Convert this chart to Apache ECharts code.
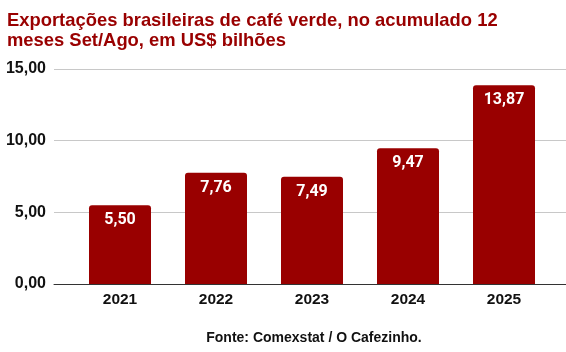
<!DOCTYPE html>
<html>
<head>
<meta charset="utf-8">
<script src="https://cdn.jsdelivr.net/npm/echarts@6/dist/echarts.min.js"></script>
<style>
  html, body { margin: 0; padding: 0; background: #fff; }
  #main { width: 566px; height: 352px; }
</style>
</head>
<body>
<div id="main"></div>
<script>
// dados
const anos = ['2021', '2022', '2023', '2024', '2025'];
const exportacoes = [5.50, 7.76, 7.49, 9.47, 13.87];
const yTicks = [0, 5, 15]; // min, intervalo, max

const fmt = v => v.toFixed(2).replace('.', ',');
const vermelho = '#990000';

const myChart = echarts.init(document.getElementById('main'));
const option = {
    animation: false,
    backgroundColor: '#fff',
    title: [
        {
            text: 'Exportações brasileiras de café verde, no acumulado 12\nmeses Set/Ago, em US$ bilhões',
            left: 2,
            top: 6,
            textStyle: {
                color: vermelho,
                fontFamily: 'Liberation Sans',
                fontWeight: 'bold',
                fontSize: 18.4,
                lineHeight: 20
            }
        },
        {
            text: 'Fonte: Comexstat / O Cafezinho.',
            left: 309,
            textAlign: 'center',
            top: 326,
            textStyle: {
                color: '#111',
                fontFamily: 'Liberation Sans',
                fontWeight: 'bold',
                fontSize: 14
            }
        }
    ],
    grid: [
        // grade de fundo: linhas e rótulos do eixo y
        { left: 54, right: 0, top: 69, bottom: 68 },
        // grade das barras
        { left: 72, right: 14, top: 69, bottom: 68 }
    ],
    xAxis: [
        {
            gridIndex: 0,
            type: 'category',
            data: anos,
            axisLine: { lineStyle: { color: '#333', width: 1 } },
            axisTick: { show: false },
            axisLabel: { show: false }
        },
        {
            gridIndex: 1,
            type: 'category',
            data: anos,
            axisLine: { show: false },
            axisTick: { show: false },
            axisLabel: {
                margin: 8,
                color: '#111',
                fontFamily: 'Liberation Sans',
                fontWeight: 'bold',
                fontSize: 15.5
            }
        }
    ],
    yAxis: [
        {
            gridIndex: 0,
            type: 'value',
            min: yTicks[0],
            max: yTicks[2],
            interval: yTicks[1],
            axisLine: { show: false },
            axisTick: { show: false },
            splitLine: { lineStyle: { color: '#c8c8c8', width: 1 } },
            axisLabel: {
                margin: 8,
                formatter: fmt,
                color: '#111',
                fontFamily: 'Liberation Sans',
                fontWeight: 'bold',
                fontSize: 16
            }
        },
        {
            gridIndex: 1,
            type: 'value',
            min: yTicks[0],
            max: yTicks[2],
            interval: yTicks[1],
            show: false
        }
    ],
    series: [
        {
            type: 'bar',
            xAxisIndex: 1,
            yAxisIndex: 1,
            data: exportacoes,
            barWidth: 62,
            itemStyle: { color: vermelho, borderRadius: [3, 3, 0, 0] },
            label: {
                show: true,
                position: 'insideTop',
                distance: 7,
                formatter: p => fmt(p.value),
                color: '#fff',
                fontFamily: 'Roboto',
                fontWeight: 'bold',
                fontSize: 16
            }
        }
    ]
};
myChart.setOption(option);
</script>
</body>
</html>
